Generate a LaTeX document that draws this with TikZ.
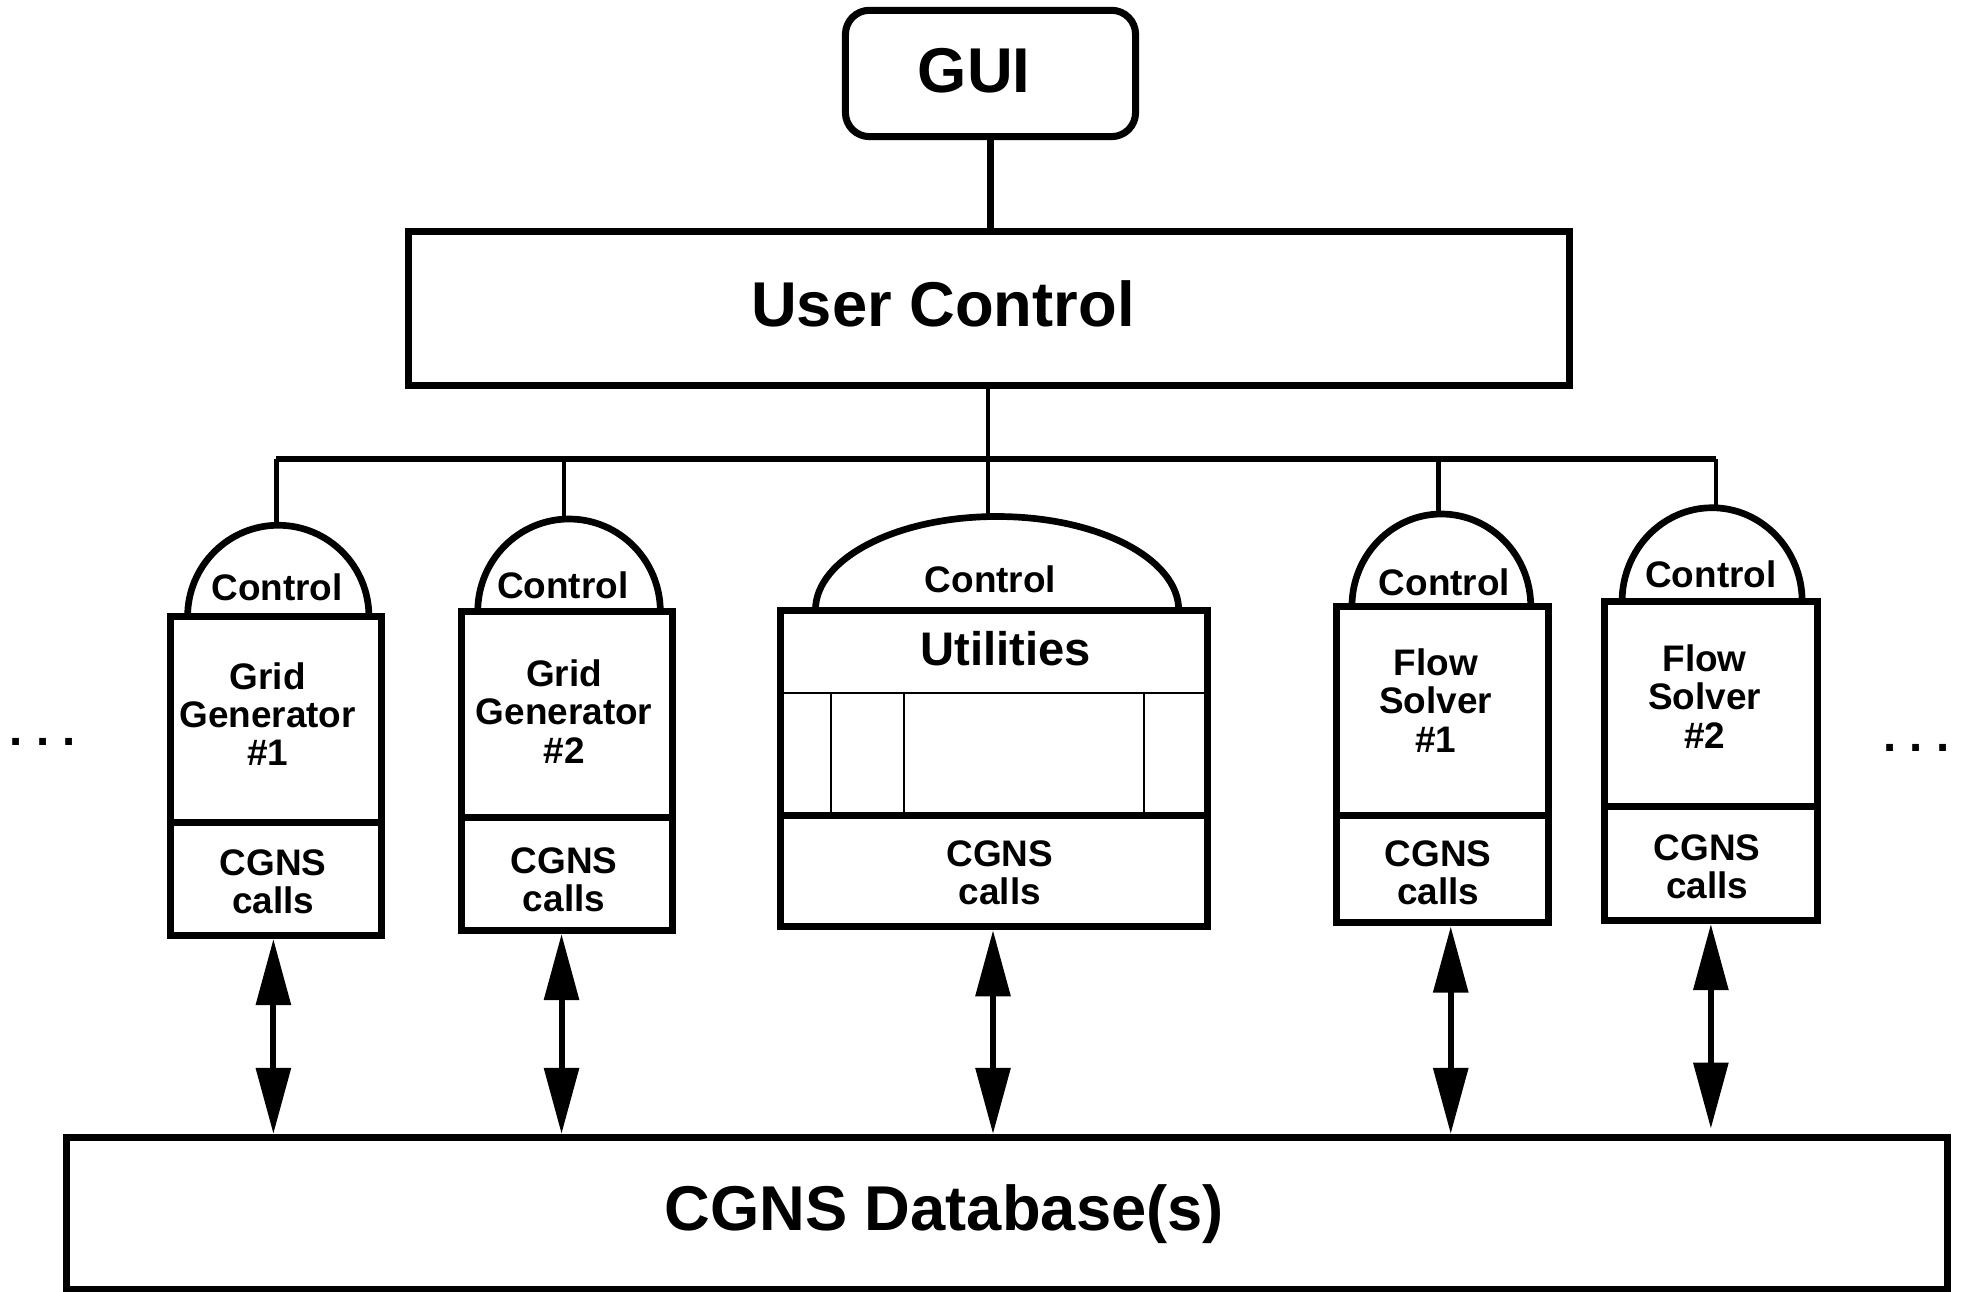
\documentclass[tikz,border=0pt]{standalone}
\usepackage{fontspec}
\setmainfont{Liberation Sans}
\usetikzlibrary{arrows.meta}
\newcommand\pxu{0.0125cm}

\begin{document}
\begin{tikzpicture}[x=\pxu, y=-\pxu,
  box/.style={draw, line width=2pt, inner sep=0pt, outer sep=1pt},
  divider/.style={line width=2pt},
  thinrule/.style={line width=0.5pt},
  dome/.style={line width=1.9pt},
  wire/.style={line width=1.35pt},
  bus/.style={line width=1.5pt},
  stem/.style={line width=2pt},
  link/.style={line width=1.7pt,
    {Triangle[length=0.66cm,width=0.34cm]}-{Triangle[length=0.66cm,width=0.34cm]}},
  bigtext/.style={font=\fontsize{18}{21}\selectfont\bfseries, inner sep=0pt, anchor=base},
  midtext/.style={font=\fontsize{13.4}{16}\selectfont\bfseries, inner sep=0pt, anchor=base},
  ctrltext/.style={font=\fontsize{10.5}{10.9}\selectfont\bfseries, inner sep=0pt, anchor=base},
  smalltext/.style={font=\fontsize{10.5}{10.9}\selectfont\bfseries, inner sep=0pt, align=center},
  dotstext/.style={font=\fontsize{13.5}{16}\selectfont\bfseries, inner sep=0pt, anchor=base},
]
\useasboundingbox (0,0) rectangle (1568,1033);

% top of the hierarchy
\node[box, rounded corners=0.24cm, minimum width=232*\pxu, minimum height=101*\pxu] (gui) at (792,58.75) {};
\node[bigtext] (guitext) at (779,74) {GUI};
\node[box, minimum width=928*\pxu, minimum height=123*\pxu] (uc) at (791,246.5) {};
\node[bigtext] (uctext) at (754,261) {User Control};

% database
\node[box, minimum width=1504*\pxu, minimum height=121.5*\pxu] (db) at (805,970.25) {};
\node[bigtext] (dbtext) at (755,984) {CGNS Database(s)};

% program boxes
\node[box, minimum width=169*\pxu, minimum height=255*\pxu] (gg1) at (220.5,620.5) {};
\node[box, minimum width=169*\pxu, minimum height=255*\pxu] (gg2) at (453.5,616.5) {};
\node[box, minimum width=341.5*\pxu, minimum height=253*\pxu] (ut) at (794.75,614.5) {};
\node[box, minimum width=169*\pxu, minimum height=253*\pxu] (fs1) at (1153.5,611.5) {};
\node[box, minimum width=170*\pxu, minimum height=255*\pxu] (fs2) at (1368,608.5) {};

% separators above the CGNS call sections
\draw[divider] (gg1.west |- 0,658) -- (gg1.east |- 0,658);
\draw[divider] (gg2.west |- 0,654) -- (gg2.east |- 0,654);
\draw[divider] (ut.west |- 0,652) -- (ut.east |- 0,652);
\draw[divider] (fs1.west |- 0,652) -- (fs1.east |- 0,652);
\draw[divider] (fs2.west |- 0,645) -- (fs2.east |- 0,645);

% utility compartments
\draw[thinrule] (ut.west |- 0,554) -- (ut.east |- 0,554);
\draw[thinrule] (664.5,554) -- (664.5,652);
\draw[thinrule] (723,554) -- (723,652);
\draw[thinrule] (914.7,554) -- (914.7,652);

% control domes
\draw[dome] (150,493) arc[start angle=180, end angle=0, x radius=72.5*\pxu, y radius=73*\pxu];
\draw[dome] (382,489) arc[start angle=180, end angle=0, x radius=73*\pxu, y radius=74*\pxu];
\draw[dome] (652,488) arc[start angle=180, end angle=0, x radius=145.25*\pxu, y radius=75*\pxu];
\draw[dome] (1081,485) arc[start angle=180, end angle=0, x radius=71.5*\pxu, y radius=74*\pxu];
\draw[dome] (1297,481) arc[start angle=180, end angle=0, x radius=72*\pxu, y radius=75*\pxu];

\coordinate (d1) at (221,420);
\coordinate (d2) at (451,415);
\coordinate (d3) at (790,413);
\coordinate (d4) at (1150,411);
\coordinate (d5) at (1372,406);

% control bus
\coordinate (b1) at (221,367);
\coordinate (b2) at (451,367);
\coordinate (b3) at (790,367);
\coordinate (b4) at (1150,367);
\coordinate (b5) at (1372,367);

\draw[stem] (gui.south -| 792,0) -- (uc.north -| 792,0);
\draw[wire] (uc.south -| b3) -- (b3);
\draw[bus] (b1) -- (b5);
\draw[wire] (b1) -- (d1);
\draw[wire] (b2) -- (d2);
\draw[wire] (b3) -- (d3);
\draw[wire] (b4) -- (d4);
\draw[wire] (b5) -- (d5);

% labels
\node[ctrltext] (c1) at (221.5,480.5) {Control};
\node[ctrltext] (c2) at (450,478.5) {Control};
\node[ctrltext] (c3) at (792,474) {Control};
\node[ctrltext] (c4) at (1155,476) {Control};
\node[ctrltext] (c5) at (1368,469.5) {Control};

\node[smalltext] (n1) at (214,571) {Grid\\Generator\\\#1};
\node[smalltext] (n2) at (451,569) {Grid\\Generator\\\#2};
\node[midtext] (n3) at (804,532.5) {Utilities};
\node[smalltext] (n4) at (1148,560) {Flow\\Solver\\\#1};
\node[smalltext] (n5) at (1363,557) {Flow\\Solver\\\#2};

\node[smalltext] (k1) at (218.5,705) {CGNS\\calls};
\node[smalltext] (k2) at (451,703.5) {CGNS\\calls};
\node[smalltext] (k3) at (799.5,698) {CGNS\\calls};
\node[smalltext] (k4) at (1150,698) {CGNS\\calls};
\node[smalltext] (k5) at (1365,693) {CGNS\\calls};

% continuation marks
\node[dotstext] (ldots) at (34.2,595.7) {.\kern3.83pt.\kern3.83pt.};
\node[dotstext] (rdots) at (1532.3,600.7) {.\kern3.83pt.\kern3.83pt.};

% database access
\draw[link] (gg1.south -| 218.6,0) -- (db.north -| 218.6,0);
\draw[link] (gg2.south -| 449,0) -- (db.north -| 449,0);
\draw[link] (ut.south -| 794,0) -- (db.north -| 794,0);
\draw[link] (fs1.south -| 1160,0) -- (db.north -| 1160,0);
\draw[link, shorten >=1.5pt] (fs2.south -| 1368,0) -- (db.north -| 1368,0);
\end{tikzpicture}
\end{document}
